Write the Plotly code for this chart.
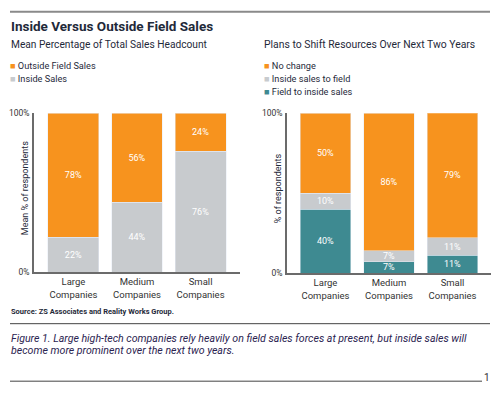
import plotly.graph_objects as go

W, H = 501, 393

categories = ["Large<br>Companies", "Medium<br>Companies", "Small<br>Companies"]

# Left chart: Mean percentage of total sales headcount
left_inside = [22, 44, 76]
left_outside = [78, 56, 24]

# Right chart: plans to shift resources
right_field_to_inside = [40, 7, 11]
right_inside_to_field = [10, 7, 11]
right_no_change = [50, 86, 79]

ORANGE = "#F7931E"
GRAY = "#C8CBCE"
TEAL = "#3E8A91"
TXT = "#1f2a3a"
FONT = "Roboto"

def px(x):
    return x / W

def py(y):
    return 1 - y / H

fig = go.Figure()

bar_common = dict(width=0.8, texttemplate="%{y}%", textposition="inside",
                  insidetextanchor="middle", constraintext="none",
                  textfont=dict(color="white", size=9, family=FONT),
                  showlegend=False, hoverinfo="skip")

fig.add_trace(go.Bar(x=categories, y=left_inside, marker_color=GRAY,
                     name="Inside Sales", xaxis="x", yaxis="y", **bar_common))
fig.add_trace(go.Bar(x=categories, y=left_outside, marker_color=ORANGE,
                     name="Outside Field Sales", xaxis="x", yaxis="y", **bar_common))

fig.add_trace(go.Bar(x=categories, y=right_field_to_inside, marker_color=TEAL,
                     name="Field to inside sales", xaxis="x2", yaxis="y2", **bar_common))
fig.add_trace(go.Bar(x=categories, y=right_inside_to_field, marker_color=GRAY,
                     name="Inside sales to field", xaxis="x2", yaxis="y2", **bar_common))
fig.add_trace(go.Bar(x=categories, y=right_no_change, marker_color=ORANGE,
                     name="No change", xaxis="x2", yaxis="y2", **bar_common))

axis_line = dict(showline=True, linecolor="#6b6b6b", linewidth=1.5,
                 showgrid=False, zeroline=False, ticks="")

xcommon = dict(type="category", tickfont=dict(size=9.5, color="#333333", family=FONT),
               **axis_line)
ycommon = dict(range=[0, 100], tickvals=[0, 100], ticktext=["0%", "100%"],
               tickfont=dict(size=8.5, color="#333333", family=FONT), ticklabelstandoff=1,
               **axis_line)

fig.update_layout(
    width=W, height=H,
    margin=dict(l=0, r=0, t=0, b=0),
    paper_bgcolor="white", plot_bgcolor="white",
    barmode="stack",
    font=dict(family=FONT, color=TXT),
    xaxis=dict(domain=[px(34), px(240)], range=[-0.62, 2.62], anchor="y", **xcommon),
    yaxis=dict(domain=[py(274), py(111)], anchor="x", **ycommon),
    xaxis2=dict(domain=[px(287), px(491)], range=[-0.606, 2.606], anchor="y2", **xcommon),
    yaxis2=dict(domain=[py(275), py(111)], anchor="x2", **ycommon),
)

ann = []
def text(x, y, s, size, color=TXT, bold=False, italic=False, xanchor="left", yanchor="middle", angle=0):
    if bold:
        s = "<b>" + s + "</b>"
    if italic:
        s = "<i>" + s + "</i>"
    ann.append(dict(x=px(x), y=py(y), xref="paper", yref="paper", text=s,
                    showarrow=False, xanchor=xanchor, yanchor=yanchor,
                    textangle=angle,
                    font=dict(size=size, color=color, family=FONT)))

text(9, 22, "Inside Versus Outside Field Sales", 13.5, bold=True)
text(9, 41, "Mean Percentage of Total Sales Headcount", 10.2)
text(262, 41, "Plans to Shift Resources Over Next Two Years", 10.4)

left_legend = [("Outside Field Sales", ORANGE), ("Inside Sales", GRAY)]
right_legend = [("No change", ORANGE), ("Inside sales to field", GRAY),
                ("Field to inside sales", TEAL)]
for i, (name, col) in enumerate(left_legend):
    text(8, 62 + 13.5 * i, f"<span style='color:{col}'>■</span> {name}", 9.2)
for i, (name, col) in enumerate(right_legend):
    text(262, 62 + 13.5 * i, f"<span style='color:{col}'>■</span> {name}", 9.2)

text(25, 188, "Mean % of respondents", 9, angle=-90, xanchor="center")
text(278, 188, "% of respondents", 9, angle=-90, xanchor="center")

text(9, 315, "Source: ZS Associates and Reality Works Group.", 7.5, bold=True)
text(9, 342, "Figure 1. Large high-tech companies rely heavily on field sales forces at present, but inside sales will",
     10.6, color="#2b2350", italic=True)
text(9, 355, "become more prominent over the next two years.", 10.6, color="#2b2350", italic=True)
text(492, 382, "1", 10, color="#333333", xanchor="right")

fig.update_layout(annotations=ann)

shapes = [
    dict(type="line", xref="paper", yref="paper", x0=px(10), x1=px(490), y0=py(7), y1=py(7),
         line=dict(color="#8a8a8a", width=2)),
    dict(type="line", xref="paper", yref="paper", x0=px(10), x1=px(490), y0=py(327), y1=py(327),
         line=dict(color="#444444", width=1)),
    dict(type="line", xref="paper", yref="paper", x0=px(10), x1=px(482), y0=py(386), y1=py(386),
         line=dict(color="#444444", width=1)),
]
fig.update_layout(shapes=shapes)

fig.write_html("out.html", config={"displayModeBar": False},
               post_script="document.body.style.margin='0';document.body.style.overflow='hidden';")
